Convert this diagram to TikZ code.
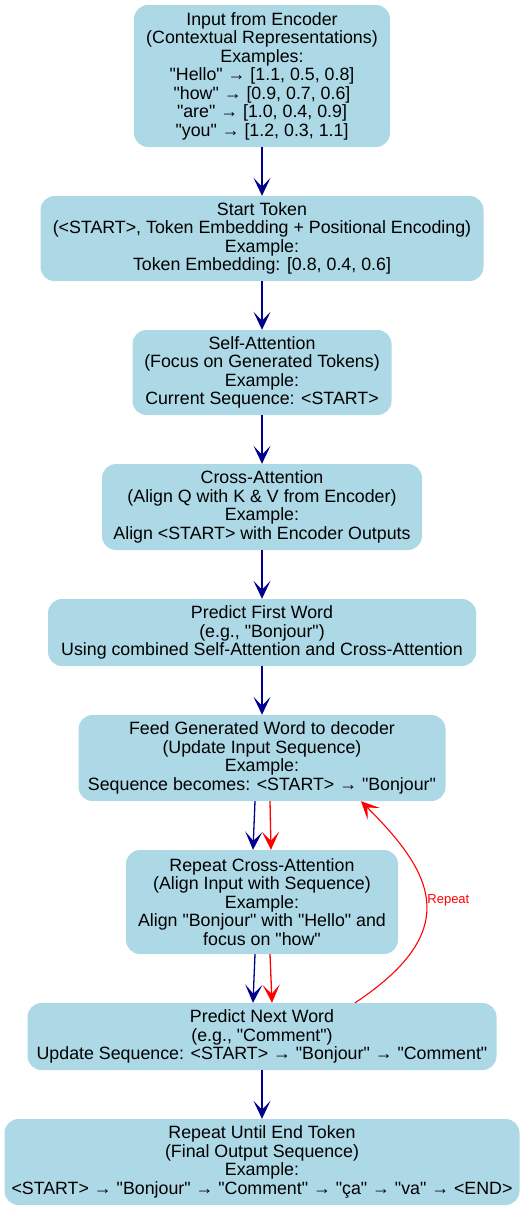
\documentclass[tikz,border=0pt]{standalone}
\usepackage{fontspec}
\setmainfont{Liberation Sans}[Ligatures=TeXOff]
\usetikzlibrary{arrows.meta}
\definecolor{boxblue}{RGB}{173,216,230}
\definecolor{arrblue}{RGB}{0,0,139}
\begin{document}
\begin{tikzpicture}[x=1pt,y=-1pt,
  box/.style={fill=boxblue, draw=none, rounded corners=14pt, align=center, inner sep=0pt,
    font=\fontsize{17.8}{18.5}\selectfont, text=black},
  tipv/.style={-{Stealth[length=18pt,width=17pt,inset=9pt]}},
  barr/.style={tipv, draw=arrblue, line width=1.3pt},
  rarr/.style={tipv, draw=red, line width=1.3pt},
  lbl/.style={font=\fontsize{13}{15}\selectfont, text=red, inner sep=1pt}
]
\useasboundingbox (0,0) rectangle (525,1211);
\node[box, minimum width=256pt, minimum height=142pt] (n1) at (262,76)
  {Input from Encoder\\(Contextual Representations)\\Examples:\\"Hello" → [1.1, 0.5, 0.8]\\"how" → [0.9, 0.7, 0.6]\\"are" → [1.0, 0.4, 0.9]\\"you" → [1.2, 0.3, 1.1]};
\node[box, minimum width=443pt, minimum height=85pt] (n2) at (262,238.5)
  {Start Token\\(<START>, Token Embedding + Positional Encoding)\\Example:\\Token Embedding: [0.8, 0.4, 0.6]};
\node[box, minimum width=259pt, minimum height=85pt] (n3) at (262,372.5)
  {Self-Attention\\(Focus on Generated Tokens)\\Example:\\Current Sequence: <START>};
\node[box, minimum width=320pt, minimum height=86pt] (n4) at (262,507)
  {Cross-Attention\\(Align Q with K \& V from Encoder)\\Example:\\Align <START> with Encoder Outputs};
\node[box, minimum width=428pt, minimum height=67pt] (n5) at (262,632.5)
  {Predict First Word\\(e.g., "Bonjour")\\Using combined Self-Attention and Cross-Attention};
\node[box, minimum width=367pt, minimum height=86pt] (n6) at (262,758)
  {Feed Generated Word to decoder\\(Update Input Sequence)\\Example:\\Sequence becomes: <START> → "Bonjour"};
\node[box, minimum width=272pt, minimum height=104pt] (n7) at (262,902)
  {Repeat Cross-Attention\\(Align Input with Sequence)\\Example:\\Align "Bonjour" with "Hello" and\\focus on "how"};
\node[box, minimum width=469pt, minimum height=67pt] (n8) at (262,1036.5)
  {Predict Next Word\\(e.g., "Comment")\\Update Sequence: <START> → "Bonjour" → "Comment"};
\node[box, minimum width=515pt, minimum height=86pt] (n9) at (262,1162)
  {Repeat Until End Token\\(Final Output Sequence)\\Example:\\<START> → "Bonjour" → "Comment" → "ça" → "va" → <END>};

\draw[barr] (n1) -- (n2);
\draw[barr] (n2) -- (n3);
\draw[barr] (n3) -- (n4);
\draw[barr] (n4) -- (n5);
\draw[barr] (n5) -- (n6);
\draw[barr] ([xshift=-7pt]n6.south) -- ([xshift=-9pt]n7.north);
\draw[rarr] ([xshift=8pt]n6.south) -- ([xshift=9pt]n7.north);
\draw[barr] ([xshift=-7pt]n7.south) -- ([xshift=-9pt]n8.north);
\draw[rarr] ([xshift=8pt]n7.south) -- ([xshift=10pt]n8.north);
\draw[barr] (n8) -- (n9);
\coordinate (rs) at ([xshift=93pt]n8.north);
\coordinate (re) at ([xshift=99pt]n6.south);
\draw[rarr, line width=1.1pt] (rs) .. controls +(112,-74) and +(69,69) .. (re)
  node[lbl, pos=0.5, anchor=west] (rl) {Repeat};
\end{tikzpicture}
\end{document}
